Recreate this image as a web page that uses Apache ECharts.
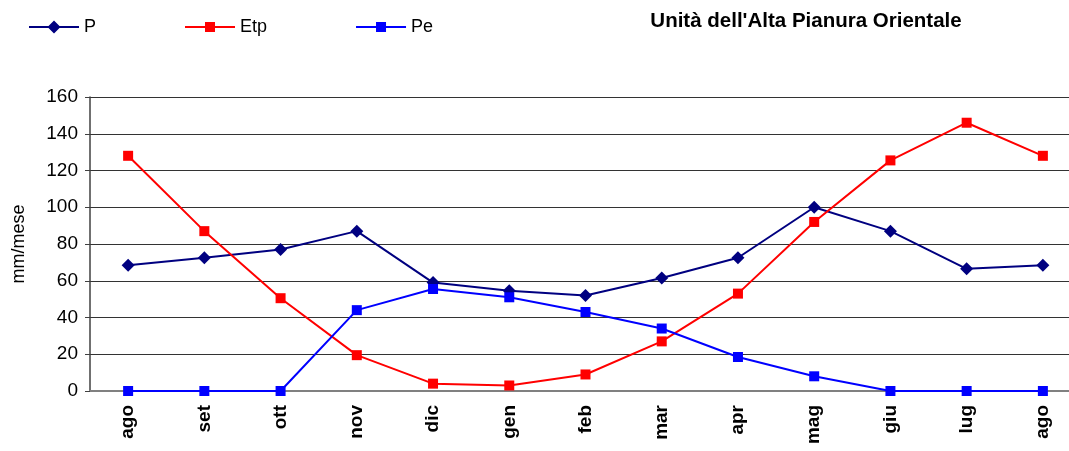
<!DOCTYPE html>
<html>
<head>
<meta charset="utf-8">
<script src="https://cdn.jsdelivr.net/npm/echarts@6/dist/echarts.min.js"></script>
<style>
    html, body { margin: 0; padding: 0; background: #fff; }
    #main { width: 1069px; height: 451px; }
</style>
</head>
<body>
<div id="main"></div>
<script>
/* ===================== dati ===================== */
var mesi = ['ago', 'set', 'ott', 'nov', 'dic', 'gen', 'feb', 'mar', 'apr', 'mag', 'giu', 'lug', 'ago'];
// precipitazioni
var P = [68.5, 72.5, 77, 87, 59, 54.5, 52, 61.5, 72.5, 100, 87, 66.5, 68.5];
// evapotraspirazione potenziale
var Etp = [128, 87, 50.5, 19.5, 4, 3, 9, 27, 53, 92, 125.5, 146, 128];
// precipitazioni efficaci
var Pe = [0, 0, 0, 44, 55.5, 51, 43, 34, 18.5, 8, 0, 0, 0];
var yTicks = [0, 20, 40, 60, 80, 100, 120, 140, 160];
/* ===================== end ===================== */

var font = 'Liberation Sans, Arial, sans-serif';

// icone legenda: linea + marcatore
var iconDiamond = 'path://M0 5.5H50V7.5H0Z M25 0L31.5 6.5L25 13L18.5 6.5Z';
var iconSquare = 'path://M0 4H50V6H0Z M20 0H30V10H20Z';

var chart = echarts.init(document.getElementById('main'));

chart.setOption({
    animation: false,
    backgroundColor: '#fff',
    title: {
        text: "Unità dell'Alta Pianura Orientale",
        left: 801,
        textAlign: 'center',
        top: 6,
        textStyle: { fontFamily: font, fontSize: 20.5, fontWeight: 'bold', color: '#000' }
    },
    legend: {
        left: 24,
        top: 13,
        itemWidth: 50,
        itemHeight: 13,
        itemGap: 89,
        symbolKeepAspect: true,
        textStyle: { fontFamily: font, fontSize: 18, color: '#000' },
        data: [
            { name: 'P', icon: iconDiamond },
            { name: 'Etp', icon: iconSquare },
            { name: 'Pe', icon: iconSquare }
        ]
    },
    grid: {
        left: 90,
        top: 97,
        width: 991,
        height: 294,
        outerBoundsMode: 'none'
    },
    xAxis: {
        type: 'category',
        data: mesi,
        boundaryGap: true,
        axisLine: { lineStyle: { color: '#808080', width: 2 } },
        axisTick: { show: false },
        axisLabel: {
            rotate: 90,
            margin: 14,
            fontFamily: font,
            fontSize: 19,
            fontWeight: 'bold',
            color: '#000'
        }
    },
    yAxis: {
        type: 'value',
        min: yTicks[0],
        max: yTicks[yTicks.length - 1],
        interval: 20,
        name: 'mm/mese',
        nameLocation: 'middle',
        nameGap: 62,
        nameTextStyle: { fontFamily: font, fontSize: 18, color: '#000' },
        axisLine: { show: true, lineStyle: { color: '#404040', width: 1.5 } },
        axisTick: { show: true, inside: false, length: 5, lineStyle: { color: '#404040' } },
        axisLabel: { fontFamily: font, fontSize: 19, color: '#000', margin: 12 },
        splitLine: { lineStyle: { color: '#333', width: 1 } }
    },
    series: [
        {
            name: 'P',
            type: 'line',
            data: P,
            symbol: 'diamond',
            symbolSize: 13,
            itemStyle: { color: '#000080' },
            lineStyle: { color: '#000080', width: 2 },
            z: 3
        },
        {
            name: 'Etp',
            type: 'line',
            data: Etp,
            symbol: 'rect',
            symbolSize: 10,
            itemStyle: { color: '#ff0000' },
            lineStyle: { color: '#ff0000', width: 2 },
            z: 4
        },
        {
            name: 'Pe',
            type: 'line',
            data: Pe,
            symbol: 'rect',
            symbolSize: 10,
            itemStyle: { color: '#0000ff' },
            lineStyle: { color: '#0000ff', width: 2 },
            z: 5
        }
    ]
});
</script>
</body>
</html>
